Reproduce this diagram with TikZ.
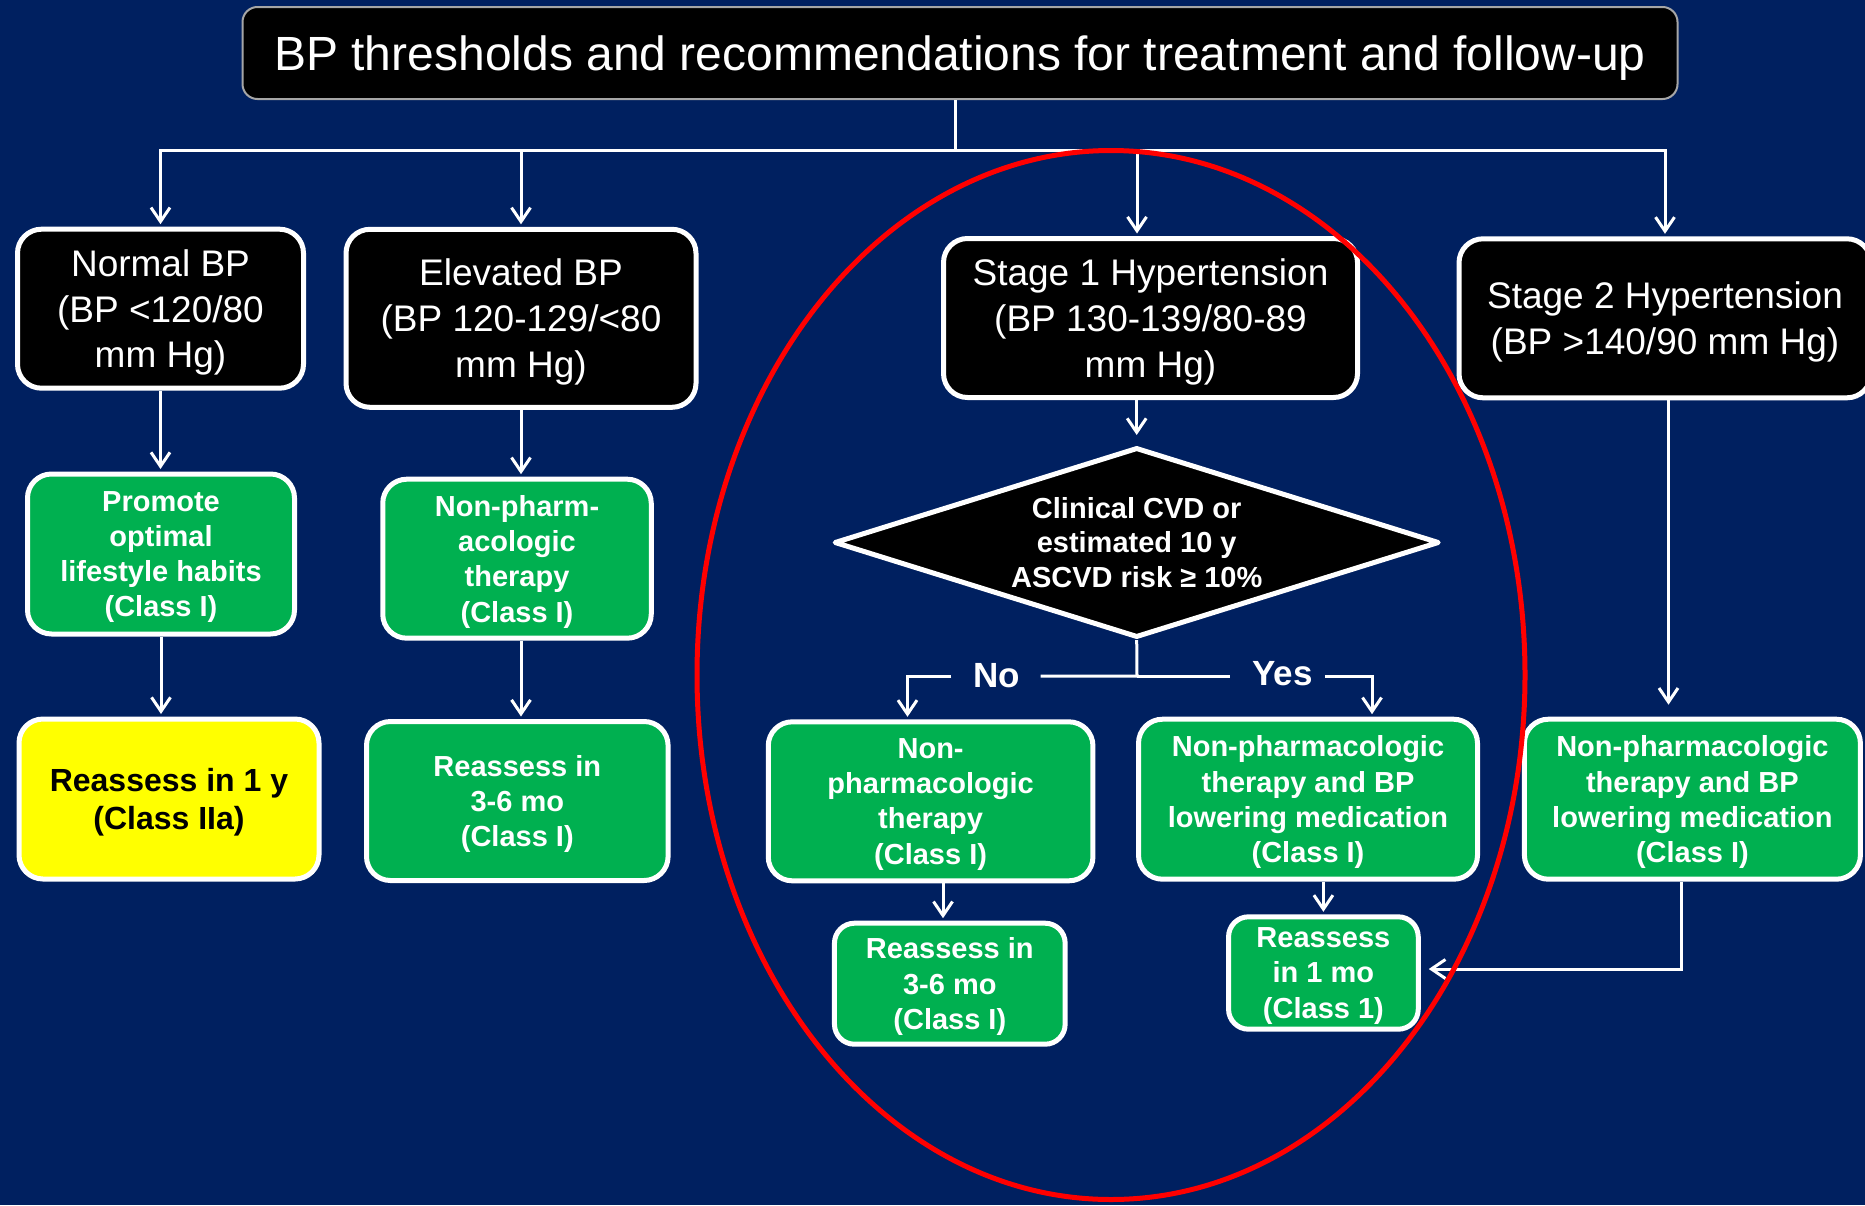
\documentclass[tikz,border=0pt]{standalone}
\usepackage{fontspec}
\setmainfont{Liberation Sans}
\usetikzlibrary{arrows.meta,shapes.geometric}
\definecolor{bgblue}{RGB}{0,32,96}
\definecolor{boxgreen}{RGB}{0,176,80}
\definecolor{boxyellow}{RGB}{255,255,0}
\definecolor{ringred}{RGB}{255,0,0}
\begin{document}
\begin{tikzpicture}[x=1pt,y=-1pt,
  blk/.style={draw=white, line width=5pt, fill=black, rounded corners=24pt, text=white, align=center, inner sep=0pt, text depth=0pt, font=\fontsize{37}{45.8}\selectfont},
  grn/.style={draw=white, line width=5pt, fill=boxgreen, rounded corners=24pt, text=white, align=center, inner sep=0pt, text depth=0pt, font=\bfseries\fontsize{29}{35.3}\selectfont},
  ln/.style={draw=white, line width=3pt},
  arr/.style={ln, -{Straight Barb[length=14pt,width=19pt]}, shorten >=2.5pt},
  lbl/.style={text=white, font=\bfseries\fontsize{35}{40}\selectfont, inner sep=0pt}
]
\useasboundingbox (0,0) rectangle (1865,1205);
\fill[bgblue] (0,0) rectangle (1865,1205);

% title
\node[draw=gray!70, line width=2pt, fill=black, rounded corners=15pt, minimum width=1435pt, minimum height=92pt, text=white, font=\fontsize{48}{50}\selectfont, inner sep=0pt, text depth=0pt] (title) at (960,53) {BP thresholds and recommendations for treatment and follow-up};

% category boxes
\node[blk, minimum width=286pt, minimum height=159pt] (n1) at (160.5,308.7) {Normal BP\\(BP <120/80\\mm Hg)};
\node[blk, minimum width=350pt, minimum height=178pt] (n2) at (521,318.3) {Elevated BP\\(BP 120-129/<80\\mm Hg)};
\node[blk, minimum width=414pt, minimum height=159pt] (n3) at (1150.5,318) {Stage 1 Hypertension\\(BP 130-139/80-89\\mm Hg)};
\node[blk, minimum width=412pt, minimum height=159pt] (n4) at (1665,318.3) {Stage 2 Hypertension\\(BP >140/90 mm Hg)};

% second row
\node[grn, minimum width=267pt, minimum height=160pt] (g1) at (161,554) {Promote\\optimal\\lifestyle habits\\(Class I)};
\node[grn, minimum width=268.5pt, minimum height=159pt] (g2) at (517,558.7) {Non-pharm-\\acologic\\therapy\\(Class I)};
\node[draw=white, line width=5pt, line join=round, fill=black, diamond, aspect=3.2, minimum width=605pt, minimum height=190pt, inner sep=0pt, text=white, align=center, font=\bfseries\fontsize{29}{34.5}\selectfont] (dia) at (1136.7,542.5) {Clinical CVD or\\estimated 10 y\\ASCVD risk ≥ 10\%};

% third row
\node[grn, fill=boxyellow, text=black, font=\bfseries\fontsize{32}{38}\selectfont, minimum width=300pt, minimum height=160pt] (y1) at (169,799) {Reassess in 1 y\\(Class IIa)};
\node[grn, minimum width=301.6pt, minimum height=159pt] (g3) at (517.3,801) {Reassess in\\3-6 mo\\(Class I)};
\node[grn, minimum width=324.7pt, minimum height=159pt] (g4) at (930.6,801.3) {Non-\\pharmacologic\\therapy\\(Class I)};
\node[grn, minimum width=339pt, minimum height=160pt] (g5) at (1308,799.2) {Non-pharmacologic\\therapy and BP\\lowering medication\\(Class I)};
\node[grn, minimum width=336pt, minimum height=160pt] (g6) at (1692.4,799.2) {Non-pharmacologic\\therapy and BP\\lowering medication\\(Class I)};

% fourth row
\node[grn, minimum width=230.7pt, minimum height=121pt, rounded corners=20pt] (g7) at (949.8,983.7) {Reassess in\\3-6 mo\\(Class I)};
\node[grn, minimum width=189.7pt, minimum height=112.4pt, rounded corners=20pt] (g8) at (1323.4,973) {Reassess\\in 1 mo\\(Class 1)};

% connectors from the title
\coordinate (top) at (955,150);
\coordinate (c3) at (1137,150);
\draw[ln] (title.south -| top) -- (top);
\draw[arr] (top) -| (n1.north);
\draw[arr] (top) -| (n4.north);
\draw[arr] (top -| n2.north) -- (n2.north);
\draw[arr] (c3) -- (c3 |- n3.north);

% left columns
\draw[arr] (n1.south) -- (n1.south |- g1.north);
\draw[arr] (g1.south) -- (g1.south |- y1.north);
\draw[arr] (n2.south) -- (n2.south |- g2.north);
\draw[arr] (n2.south |- g2.south) -- (n2.south |- g3.north);

% stage 1
\draw[arr, shorten >=10pt] (dia.north |- n3.south) -- (dia.north);
\coordinate (yn) at (1137,676);
\node[lbl] (no) at (997,676) {No};
\node[lbl] (yes) at (1282.5,674) {Yes};
\coordinate (ncol) at (907.5,0);
\coordinate (ycol) at (1372,0);
\draw[ln] (dia.south) -- (yn) -- ([xshift=20pt]no.east |- yn);
\draw[arr] ([xshift=-22pt]no.west |- yn) -| (ncol |- g4.north);
\draw[ln] (yn) -- ([xshift=-22pt]yes.west |- yn);
\draw[arr] ([xshift=12pt]yes.east |- yn) -| (ycol |- g5.north);
\coordinate (c7) at (943,0);
\draw[arr] (c7 |- g4.south) -- (c7 |- g7.north);
\draw[arr] (g8.north |- g5.south) -- (g8.north);

% stage 2
\coordinate (c4) at (1668.5,0);
\draw[arr, shorten >=12pt] (c4 |- n4.south) -- (c4 |- g6.north);
\coordinate (c6) at (1681,0);
\coordinate (h8) at (0,969);
\draw[arr, shorten >=8pt] (c6 |- g6.south) -- (c6 |- h8) -- (g8.east |- h8);

% red ring
\draw[ringred, line width=5pt] (1111,675) ellipse [x radius=414pt, y radius=524.5pt];
\end{tikzpicture}
\end{document}
